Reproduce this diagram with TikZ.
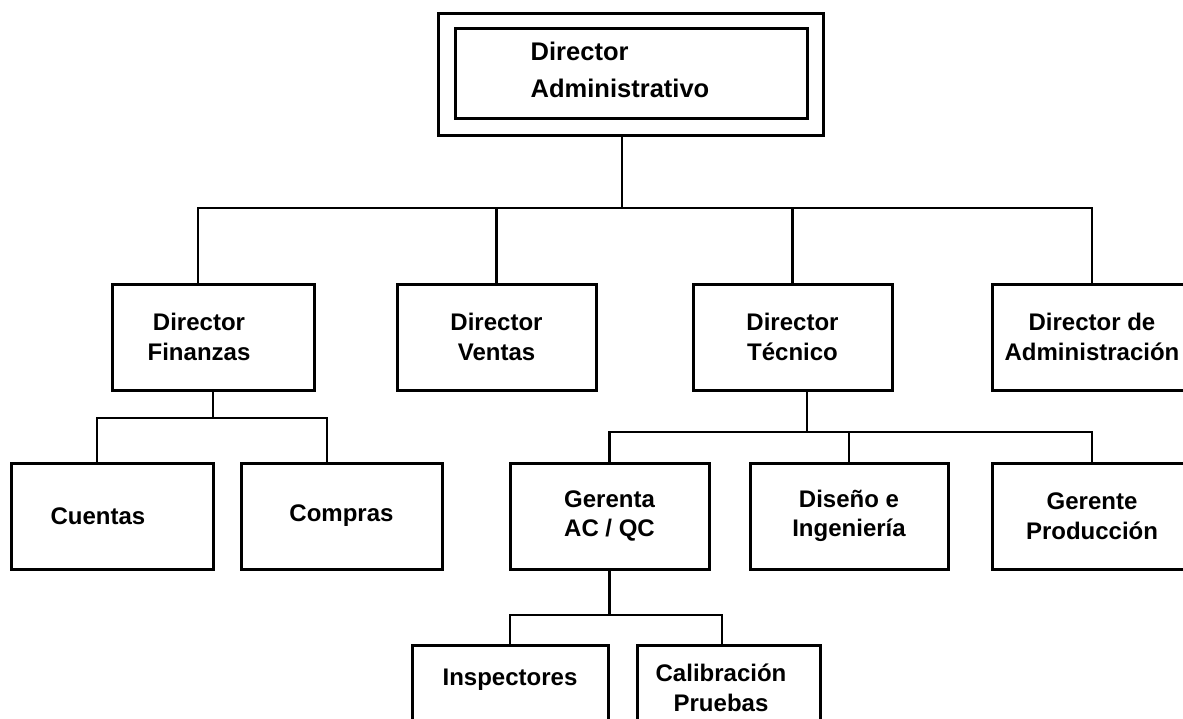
\documentclass[tikz,border=0pt]{standalone}
\usepackage{fontspec}
\setmainfont{Liberation Sans}
\begin{document}
\begin{tikzpicture}[x=1pt,y=-1pt,
  txt/.style={align=center, font=\bfseries\fontsize{24}{29.5}\selectfont},
  box/.style={draw, rectangle, line width=3pt, inner sep=0pt, minimum height=106pt, txt},
  frame/.style={draw, rectangle, line width=3pt, inner sep=0pt},
  conn/.style={line width=2.6pt}]
\useasboundingbox (0,0) rectangle (1183,718);
\clip (0,0) rectangle (1183,718);
\fill[white] (0,0) rectangle (1183,718);

% top
\node[frame, minimum width=385pt, minimum height=122pt] (dir) at (630.5,74) {};
\node[frame, minimum width=352pt, minimum height=90pt,
      label={[xshift=-11pt, yshift=3pt, align=left, font=\bfseries\fontsize{25.5}{37}\selectfont]center:Director\\Administrativo}] (dirin) at (631,73) {};

% level 2
\node[box, minimum width=202pt, label={[xshift=-14pt, txt]center:Director\\Finanzas}] (fin) at (213,337) {};
\node[box, minimum width=199pt] (ven) at (496.5,337) {Director\\Ventas};
\node[box, minimum width=199pt] (tec) at (792.5,337) {Director\\Técnico};
\node[box, minimum width=200pt] (adm) at (1092,337) {Director de\\Administración};

% level 3
\node[box, minimum width=202pt, label={[xshift=-14pt, txt]center:Cuentas}] (cue) at (112,516) {};
\node[box, minimum width=201pt] (com) at (341.5,516) {Compras};
\node[box, minimum width=199pt] (ger) at (609.5,516) {Gerenta\\AC / QC};
\node[box, minimum width=198pt] (dis) at (849,516) {Diseño e\\Ingeniería};
\node[box, minimum width=200pt] (pro) at (1092,516) {Gerente\\Producción};

% level 4 (cut by the lower edge)
\node[box, minimum width=196pt, minimum height=110pt,
      label={[yshift=20pt, txt]center:Inspectores}] (ins) at (510,700) {};
\node[box, minimum width=183pt, minimum height=110pt,
      label={[xshift=-7.5pt, yshift=12pt, txt]center:Calibración\\Pruebas}] (cal) at (728.5,700) {};

% connectors
\coordinate (b1) at (622,208);
\draw[conn] (dir.south -| b1) -- (b1);
\draw[conn] ([xshift=-15pt]fin.north) |- (adm.north |- b1) -- (adm.north);
\draw[conn] (ven.north) -- (ven.north |- b1);
\draw[conn] (tec.north) -- (tec.north |- b1);

\coordinate (b2) at (213,418);
\draw[conn] (fin.south) -- (b2);
\draw[conn] ([xshift=-15pt]cue.north) |- ([xshift=-14.5pt]com.north |- b2) -- ([xshift=-14.5pt]com.north);

\coordinate (b3) at (807,432);
\draw[conn] ([xshift=14.5pt]tec.south) -- (b3);
\draw[conn] (ger.north) |- (pro.north |- b3) -- (pro.north);
\draw[conn] (dis.north) -- (dis.north |- b3);

\coordinate (b4) at (609.5,615);
\draw[conn] (ger.south) -- (b4);
\draw[conn] (ins.north) |- ([xshift=-6.5pt]cal.north |- b4) -- ([xshift=-6.5pt]cal.north);
\end{tikzpicture}
\end{document}
